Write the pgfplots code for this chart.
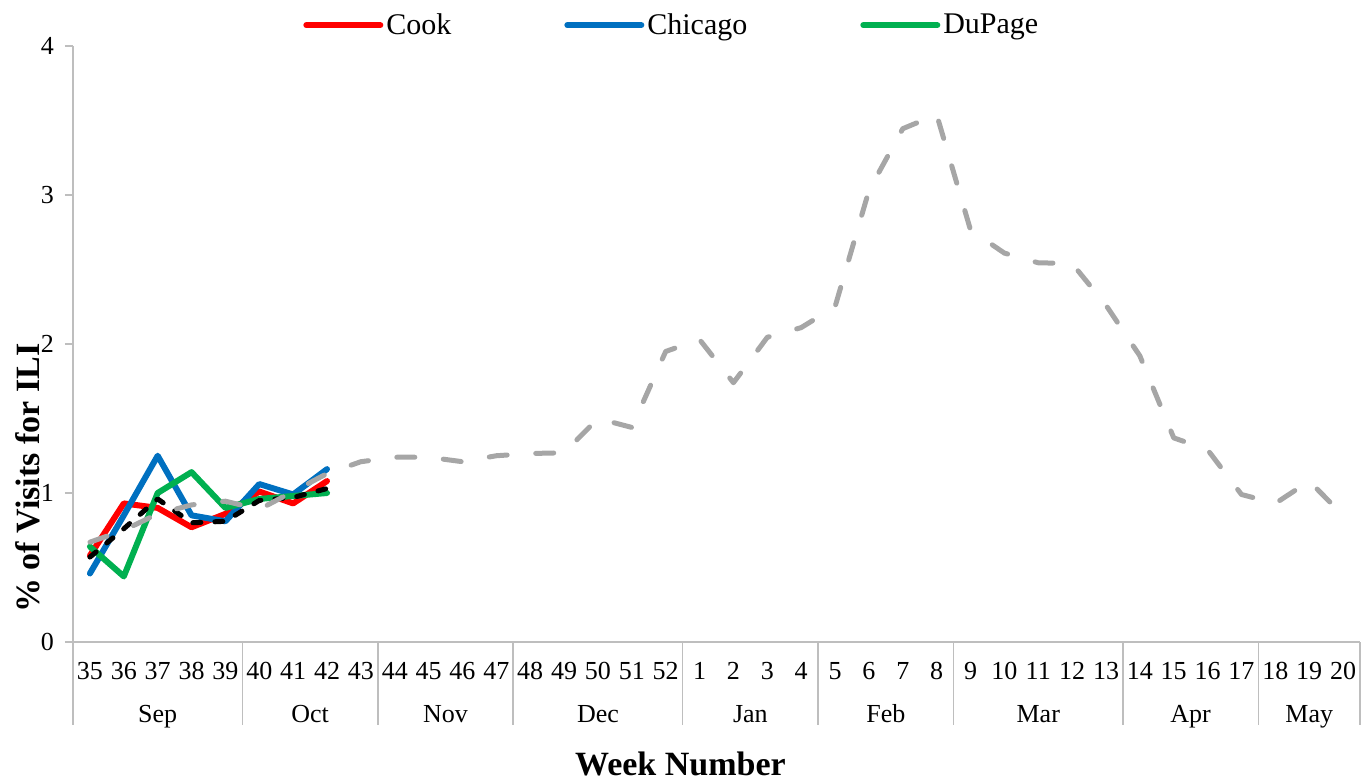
\documentclass[border=0pt]{standalone}
\usepackage{fontspec}
\setmainfont{Liberation Serif}
\usepackage{pgfplots}
\usepackage{pgfplotstable}
\pgfplotsset{compat=1.18}
\definecolor{cookred}{RGB}{255,0,0}
\definecolor{chiblue}{RGB}{0,112,192}
\definecolor{dupgreen}{RGB}{0,176,80}
\definecolor{basegray}{RGB}{166,166,166}
\definecolor{axgray}{RGB}{190,190,190}

% x = category index (0 = week 35 ... 37 = week 20)
\pgfplotstableread{
x y
0 0.58
1 0.93
2 0.90
3 0.77
4 0.86
5 1.01
6 0.93
7 1.08
}\cook
\pgfplotstableread{
x y
0 0.46
1 0.85
2 1.25
3 0.85
4 0.81
5 1.06
6 0.99
7 1.16
}\chicago
\pgfplotstableread{
x y
0 0.64
1 0.44
2 1.00
3 1.14
4 0.90
5 0.96
6 0.98
7 1.00
}\dupage
\pgfplotstableread{
x y
0 0.57
1 0.76
2 0.96
3 0.80
4 0.81
5 0.95
6 0.97
7 1.03
}\total
\pgfplotstableread{
x y
0 0.67
1 0.75
2 0.86
3 0.92
4 0.945
5 0.89
6 1.01
7 1.13
8 1.21
9 1.24
10 1.24
11 1.21
12 1.25
13 1.265
14 1.27
15 1.50
16 1.44
17 1.95
18 2.03
19 1.74
20 2.045
21 2.11
22 2.25
23 3.03
24 3.445
25 3.54
26 2.765
27 2.61
28 2.545
29 2.54
30 2.26
31 1.92
32 1.37
33 1.29
34 0.99
35 0.93
36 1.08
37 0.85
}\prevseason

\begin{document}
\begin{tikzpicture}
\begin{axis}[
  at={(0,0)}, anchor=south west,
  width=643.5pt, height=298pt, scale only axis,
  xmin=-0.5, xmax=37.5, ymin=0, ymax=4,
  clip=false,
  axis x line=bottom, axis y line=left,
  axis line style={draw=axgray, line width=0.8pt, -},
  xtick={0,...,37},
  xticklabels={35,36,37,38,39,40,41,42,43,44,45,46,47,48,49,50,51,52,1,2,3,4,5,6,7,8,9,10,11,12,13,14,15,16,17,18,19,20},
  x tick label style={font=\fontsize{13}{15}\selectfont, anchor=base, yshift=-16.5pt},
  x tick style={draw=none},
  ytick={0,1,2,3,4},
  ytick align=outside,
  y tick style={draw=axgray, line width=0.8pt},
  major tick length=4pt,
  y tick label style={font=\fontsize{13}{15}\selectfont, anchor=east, xshift=-2pt},
  /pgf/number format/assume math mode=true,
  legend style={at={(rel axis cs:0.174,1.035)}, anchor=west, draw=none, fill=none,
    font=\fontsize{15}{17}\selectfont,
    /tikz/every even column/.append style={column sep=55pt},
    nodes={inner xsep=1.5pt, inner ysep=1pt}},
  legend columns=3,
  legend image code/.code={\draw[#1, line width=3pt] (0pt,0pt) -- (37pt,0pt);},
]
\addplot[cookred, line width=3pt, line join=round, line cap=round] table[x=x,y=y] {\cook};
\addlegendentry{Cook}
\addplot[chiblue, line width=3pt, line join=round, line cap=round] table[x=x,y=y] {\chicago};
\addlegendentry{Chicago}
\addplot[dupgreen, line width=3pt, line join=round, line cap=round] table[x=x,y=y] {\dupage};
\addlegendentry{DuPage}
\addplot[black, line width=2.5pt, line join=round, line cap=round, dash pattern=on 4pt off 7pt, forget plot] table[x=x,y=y] {\total};
\addplot[basegray, line width=2.5pt, line join=round, line cap=round, dash pattern=on 9pt off 14.3pt, forget plot] table[x=x,y=y] {\prevseason};

\pgfplotsinvokeforeach{-0.5,4.5,8.5,12.5,17.5,21.5,25.5,30.5,34.5,37.5}{
  \draw[axgray, line width=0.8pt] (axis cs:#1,0) -- ++(0pt,-41.5pt);
}
\tikzset{month/.style={font=\fontsize{13}{15}\selectfont, anchor=base}}
\node[month] at ([yshift=-40pt]axis cs:2,0) {Sep};
\node[month] at ([yshift=-40pt]axis cs:6.5,0) {Oct};
\node[month] at ([yshift=-40pt]axis cs:10.5,0) {Nov};
\node[month] at ([yshift=-40pt]axis cs:15,0) {Dec};
\node[month] at ([yshift=-40pt]axis cs:19.5,0) {Jan};
\node[month] at ([yshift=-40pt]axis cs:23.5,0) {Feb};
\node[month] at ([yshift=-40pt]axis cs:28,0) {Mar};
\node[month] at ([yshift=-40pt]axis cs:32.5,0) {Apr};
\node[month] at ([yshift=-40pt]axis cs:36,0) {May};
\node[rotate=90, font=\fontsize{17}{20}\selectfont\bfseries] at ([xshift=-22.5pt]rel axis cs:0,0.275) {\% of Visits for ILI};
\node[font=\fontsize{17}{20}\selectfont\bfseries, anchor=base, inner sep=0pt] at ([yshift=-66.5pt]rel axis cs:0.472,0) {Week Number};
\end{axis}
\pgfresetboundingbox
\path (-36.5pt,-69pt) rectangle (645pt,321pt);
\end{tikzpicture}
\end{document}
